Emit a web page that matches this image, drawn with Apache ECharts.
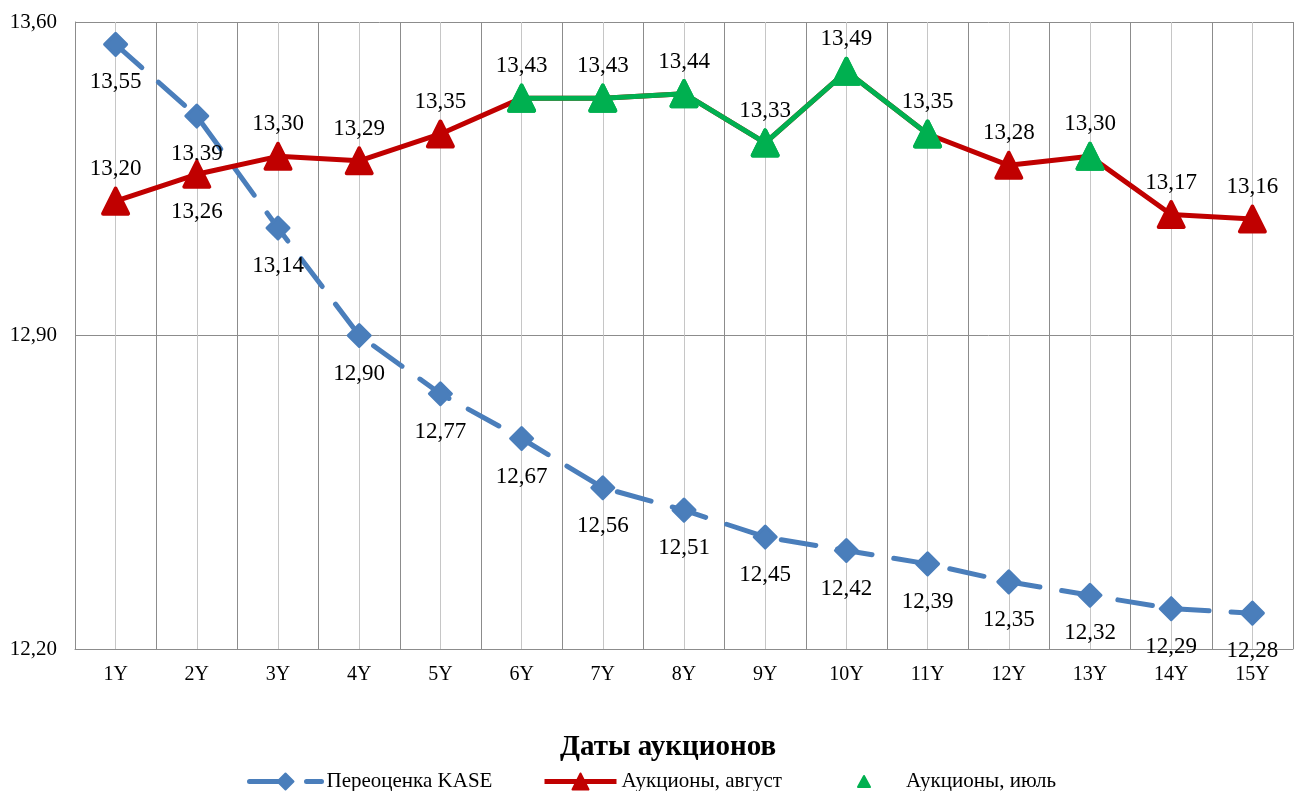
<!DOCTYPE html>
<html>
<head>
<meta charset="utf-8">
<script src="https://cdn.jsdelivr.net/npm/echarts@6/dist/echarts.min.js"></script>
<style>html,body{margin:0;padding:0;background:#fff}#c{width:1302px;height:791px}</style>
</head>
<body>
<div id="c"></div>
<script>
const categories = ['1Y','2Y','3Y','4Y','5Y','6Y','7Y','8Y','9Y','10Y','11Y','12Y','13Y','14Y','15Y'];
const kase = [13.55,13.39,13.14,12.90,12.77,12.67,12.56,12.51,12.45,12.42,12.39,12.35,12.32,12.29,12.28];
const august = [13.20,13.26,13.30,13.29,13.35,13.43,13.43,13.44,13.33,13.49,13.35,13.28,13.30,13.17,13.16];
const july = [null,null,null,null,null,13.43,13.43,13.44,13.33,13.49,13.35,null,13.30,null,null];
const yTickLabels = ['12,20','12,90','13,60'];
const yMin = 12.2, yMax = 13.6;
const seriesNames = ['Переоценка KASE','Аукционы, август','Аукционы, июль'];
const xTitle = 'Даты аукционов';
const belowLabelIdx = [1];

const BLUE = '#4a7ebb', RED = '#c00000', GREEN = '#00b050';
const FONT = 'Liberation Serif';
const fmt = v => v.toFixed(2).replace('.', ',');

const augData = august.map((v, i) => {
  const item = { value: v };
  if (july[i] != null) item.itemStyle = { color: GREEN, borderColor: GREEN };
  if (belowLabelIdx.includes(i)) item.label = { position: 'bottom', distance: 12 };
  return item;
});

const legendText = { fontFamily: FONT, fontSize: 21, color: '#000' };

const chart = echarts.init(document.getElementById('c'), null, { renderer: 'canvas' });
chart.setOption({
  animation: false,
  backgroundColor: '#fff',
  title: {
    text: xTitle, left: 555, top: 728,
    textStyle: { fontFamily: FONT, fontSize: 29, fontWeight: 'bold', color: '#000' }
  },
  legend: [
    { data: [seriesNames[0]], left: 242, top: 766, itemWidth: 72, itemHeight: 20, itemGap: 5,
      lineStyle: { width: 5 }, textStyle: legendText },
    { data: [seriesNames[1]], left: 537, top: 766, itemWidth: 72, itemHeight: 20, itemGap: 5,
      lineStyle: { width: 5 }, textStyle: legendText },
    { data: [{ name: seriesNames[2], icon: 'triangle' }], left: 852, top: 766, itemWidth: 12, itemHeight: 11,
      textStyle: Object.assign({ padding: [0, 0, 0, 31] }, legendText) }
  ],
  grid: { left: 75, right: 9, top: 22, bottom: 142, containLabel: false },
  xAxis: [
    { type: 'category', data: categories, boundaryGap: true,
      axisLine: { show: true, lineStyle: { color: '#8c8c8c', width: 1 } },
      axisTick: { show: false },
      axisLabel: { fontFamily: FONT, fontSize: 20, color: '#000', margin: 16 },
      splitLine: { show: false } },
    { type: 'value', min: 0, max: 30, interval: 1, position: 'bottom',
      axisLine: { show: false }, axisTick: { show: false }, axisLabel: { show: false },
      splitLine: { show: true, lineStyle: { color: ['#8c8c8c', '#c6c6c6'], width: 1 } } }
  ],
  yAxis: [
    { type: 'value', min: yMin, max: yMax, position: 'left', show: false },
    { type: 'category', data: yTickLabels, boundaryGap: false, position: 'left',
      axisLine: { show: true, lineStyle: { color: '#8c8c8c', width: 1 } },
      axisTick: { show: false },
      axisLabel: { fontFamily: FONT, fontSize: 21, color: '#000', margin: 18 },
      splitLine: { show: true, lineStyle: { color: '#8c8c8c', width: 1 } } }
  ],
  series: [
    { name: seriesNames[0], type: 'line', data: kase, xAxisIndex: 0, yAxisIndex: 0, z: 2,
      symbol: 'diamond', symbolSize: 22,
      lineStyle: { color: BLUE, width: 5, type: [35, 22], cap: 'round' },
      itemStyle: { color: BLUE, borderColor: BLUE, borderWidth: 3, borderJoin: 'round' },
      label: { show: true, position: 'bottom', distance: 14, formatter: p => fmt(p.value),
        fontFamily: FONT, fontSize: 23, color: '#000' } },
    { name: seriesNames[1], type: 'line', data: augData, xAxisIndex: 0, yAxisIndex: 0, z: 3,
      symbol: 'triangle', symbolSize: 25,
      lineStyle: { color: RED, width: 5 },
      itemStyle: { color: RED, borderColor: RED, borderWidth: 4, borderJoin: 'round' },
      label: { show: true, position: 'top', distance: 6, formatter: p => fmt(p.value),
        fontFamily: FONT, fontSize: 23, color: '#000' } },
    { name: seriesNames[2], type: 'line', data: july, xAxisIndex: 0, yAxisIndex: 0, z: 4,
      connectNulls: false, symbol: 'triangle', symbolSize: 25,
      lineStyle: { color: GREEN, width: 5 },
      itemStyle: { color: GREEN, borderColor: GREEN, borderWidth: 4, borderJoin: 'round' },
      label: { show: false } }
  ]
});
</script>
</body>
</html>
